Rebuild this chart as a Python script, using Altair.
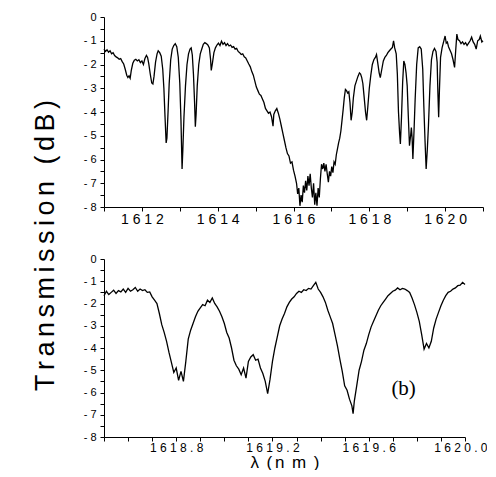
import altair as alt
import pandas as pd

# ---- top panel (a): transmission spectrum 1611-1621 nm ----
top_x = [1611.00, 1611.04, 1611.08, 1611.12, 1611.16, 1611.20, 1611.24, 1611.28, 1611.32, 1611.36,
         1611.40, 1611.44, 1611.48, 1611.52, 1611.56, 1611.60, 1611.63, 1611.66, 1611.69, 1611.72,
         1611.76, 1611.80, 1611.84, 1611.88, 1611.92, 1611.96, 1612.00, 1612.04, 1612.08, 1612.12,
         1612.15, 1612.18, 1612.22, 1612.26, 1612.29, 1612.32, 1612.36, 1612.40, 1612.43, 1612.47,
         1612.51, 1612.55, 1612.58, 1612.61, 1612.64, 1612.66, 1612.69, 1612.72, 1612.76, 1612.80,
         1612.84, 1612.88, 1612.92, 1612.96, 1613.00, 1613.03, 1613.06, 1613.08, 1613.11, 1613.15,
         1613.19, 1613.23, 1613.27, 1613.30, 1613.33, 1613.36, 1613.39, 1613.41, 1613.43, 1613.46,
         1613.50, 1613.54, 1613.58, 1613.62, 1613.66, 1613.70, 1613.74, 1613.78, 1613.81, 1613.83,
         1613.86, 1613.90, 1613.94, 1613.98, 1614.02, 1614.06, 1614.10, 1614.14, 1614.18, 1614.22,
         1614.26, 1614.30, 1614.34, 1614.38, 1614.42, 1614.46, 1614.50, 1614.54, 1614.58, 1614.62,
         1614.66, 1614.70, 1614.74, 1614.78, 1614.82, 1614.86, 1614.90, 1614.94, 1614.98, 1615.02,
         1615.06, 1615.10, 1615.14, 1615.18, 1615.22, 1615.26, 1615.30, 1615.34, 1615.38, 1615.42,
         1615.46, 1615.48, 1615.52, 1615.56, 1615.60, 1615.64, 1615.68, 1615.72, 1615.76, 1615.80,
         1615.84, 1615.88, 1615.92, 1615.96, 1616.00, 1616.04, 1616.08, 1616.11, 1616.14, 1616.17,
         1616.20, 1616.23, 1616.26, 1616.29, 1616.32, 1616.35, 1616.38, 1616.41, 1616.44, 1616.47,
         1616.50, 1616.53, 1616.56, 1616.59, 1616.62, 1616.65, 1616.68, 1616.71, 1616.74, 1616.77,
         1616.80, 1616.83, 1616.86, 1616.89, 1616.92, 1616.95, 1616.98, 1617.01, 1617.04, 1617.07,
         1617.10, 1617.13, 1617.16, 1617.19, 1617.22, 1617.25, 1617.28, 1617.31, 1617.34, 1617.37,
         1617.40, 1617.43, 1617.46, 1617.49, 1617.52, 1617.55, 1617.58, 1617.62, 1617.66, 1617.70,
         1617.74, 1617.77, 1617.80, 1617.83, 1617.86, 1617.90, 1617.93, 1617.96, 1618.00, 1618.04,
         1618.08, 1618.12, 1618.16, 1618.19, 1618.22, 1618.26, 1618.29, 1618.33, 1618.37, 1618.41,
         1618.45, 1618.49, 1618.53, 1618.57, 1618.61, 1618.64, 1618.67, 1618.71, 1618.74, 1618.77,
         1618.80, 1618.82, 1618.85, 1618.88, 1618.91, 1618.94, 1618.97, 1619.00, 1619.03, 1619.06,
         1619.09, 1619.11, 1619.13, 1619.15, 1619.18, 1619.21, 1619.25, 1619.29, 1619.33, 1619.37,
         1619.41, 1619.44, 1619.47, 1619.50, 1619.53, 1619.56, 1619.60, 1619.64, 1619.68, 1619.72,
         1619.76, 1619.79, 1619.81, 1619.83, 1619.85, 1619.88, 1619.92, 1619.96, 1620.00, 1620.03,
         1620.06, 1620.09, 1620.13, 1620.17, 1620.21, 1620.25, 1620.28, 1620.31, 1620.34, 1620.38,
         1620.42, 1620.46, 1620.50, 1620.54, 1620.58, 1620.62, 1620.66, 1620.70, 1620.74, 1620.78,
         1620.82, 1620.86, 1620.90, 1620.93, 1620.97, 1621.00]
top_y = [-1.35, -1.45, -1.38, -1.48, -1.42, -1.55, -1.50, -1.62, -1.68, -1.72,
         -1.78, -1.75, -1.88, -1.98, -2.20, -2.45, -2.55, -2.48, -2.58, -2.25,
         -1.95, -1.82, -1.78, -1.85, -1.80, -1.92, -1.85, -2.00, -1.75, -1.62,
         -1.70, -1.95, -2.40, -2.78, -2.82, -2.50, -1.90, -1.55, -1.42, -1.50,
         -1.65, -2.20, -3.00, -4.20, -5.30, -5.10, -4.00, -2.80, -1.80, -1.35,
         -1.20, -1.12, -1.25, -1.70, -2.80, -4.30, -6.40, -5.60, -4.20, -2.90,
         -2.00, -1.55, -1.35, -1.30, -1.60, -2.40, -3.60, -4.62, -4.10, -2.90,
         -2.00, -1.55, -1.35, -1.15, -1.08, -1.12, -1.18, -1.30, -1.75, -2.25,
         -1.95, -1.50, -1.30, -1.18, -1.10, -1.20, -1.02, -1.15, -1.08, -1.20,
         -1.12, -1.22, -1.18, -1.28, -1.25, -1.35, -1.32, -1.45, -1.50, -1.58,
         -1.55, -1.68, -1.72, -1.85, -1.98, -2.10, -2.30, -2.45, -2.70, -2.95,
         -3.10, -3.25, -3.30, -3.45, -3.60, -3.85, -3.95, -4.05, -4.00, -4.20,
         -4.60, -4.10, -3.95, -3.85, -4.05, -4.30, -4.60, -4.90, -5.20, -5.50,
         -5.75, -5.85, -6.15, -6.10, -6.45, -6.70, -7.00, -7.45, -7.20, -7.95,
         -7.50, -7.80, -7.10, -7.40, -6.90, -7.30, -6.70, -7.10, -6.60, -7.20,
         -7.60, -7.00, -7.90, -7.40, -7.95, -7.20, -7.60, -6.80, -6.20, -6.40,
         -6.15, -6.50, -6.20, -6.60, -6.95, -6.50, -6.70, -6.30, -6.55, -6.10,
         -6.20, -5.80, -5.55, -5.30, -5.10, -4.80, -4.35, -3.90, -3.40, -3.05,
         -3.10, -3.20, -3.15, -3.60, -4.35, -4.00, -3.40, -2.90, -2.70, -2.50,
         -2.35, -2.40, -2.55, -2.80, -3.30, -4.00, -4.35, -3.80, -3.00, -2.45,
         -2.00, -1.80, -1.70, -1.58, -1.90, -2.35, -2.55, -2.20, -1.85, -1.70,
         -1.62, -1.50, -1.42, -1.35, -1.28, -1.00, -1.30, -1.55, -2.40, -4.00,
         -4.90, -5.35, -4.20, -2.75, -1.85, -2.00, -2.35, -2.90, -4.20, -5.42,
         -5.00, -4.65, -5.10, -5.98, -4.80, -3.45, -2.00, -1.30, -1.25, -1.35,
         -2.20, -3.80, -5.20, -6.40, -5.60, -4.60, -2.90, -1.80, -1.45, -1.32,
         -1.45, -1.90, -3.20, -4.22, -3.10, -1.70, -1.30, -1.05, -0.80, -1.10,
         -1.05, -1.25, -1.40, -1.55, -1.80, -2.12, -1.40, -0.72, -0.95, -1.00,
         -1.12, -1.05, -1.15, -1.08, -1.20, -1.10, -1.00, -0.85, -1.05, -1.15,
         -1.35, -1.00, -0.95, -0.80, -1.05, -1.00]

# ---- bottom panel (b): zoom 1618.5-1620.0 nm ----
bot_x = [1618.50, 1618.51, 1618.52, 1618.53, 1618.54, 1618.55, 1618.56, 1618.57, 1618.58, 1618.59,
         1618.60, 1618.61, 1618.62, 1618.63, 1618.64, 1618.65, 1618.66, 1618.67, 1618.68, 1618.69,
         1618.70, 1618.71, 1618.72, 1618.73, 1618.74, 1618.75, 1618.76, 1618.77, 1618.78, 1618.79,
         1618.80, 1618.81, 1618.82, 1618.83, 1618.84, 1618.85, 1618.86, 1618.87, 1618.88, 1618.89,
         1618.90, 1618.91, 1618.92, 1618.93, 1618.94, 1618.95, 1618.96, 1618.97, 1618.98, 1618.99,
         1619.00, 1619.01, 1619.02, 1619.03, 1619.04, 1619.05, 1619.06, 1619.07, 1619.08, 1619.09,
         1619.10, 1619.11, 1619.12, 1619.13, 1619.14, 1619.15, 1619.16, 1619.17, 1619.18, 1619.19,
         1619.20, 1619.21, 1619.22, 1619.23, 1619.24, 1619.25, 1619.26, 1619.27, 1619.28, 1619.29,
         1619.30, 1619.31, 1619.32, 1619.33, 1619.34, 1619.35, 1619.36, 1619.37, 1619.38, 1619.39,
         1619.40, 1619.41, 1619.42, 1619.43, 1619.44, 1619.45, 1619.46, 1619.47, 1619.48, 1619.49,
         1619.50, 1619.51, 1619.52, 1619.53, 1619.535, 1619.54, 1619.55, 1619.56, 1619.57, 1619.58,
         1619.59, 1619.60, 1619.61, 1619.62, 1619.63, 1619.64, 1619.65, 1619.66, 1619.67, 1619.68,
         1619.69, 1619.70, 1619.71, 1619.72, 1619.73, 1619.74, 1619.75, 1619.76, 1619.77, 1619.78,
         1619.79, 1619.80, 1619.81, 1619.82, 1619.83, 1619.84, 1619.85, 1619.86, 1619.87, 1619.88,
         1619.89, 1619.90, 1619.91, 1619.92, 1619.93, 1619.94, 1619.95, 1619.96, 1619.97, 1619.98,
         1619.99, 1620.00]
bot_y = [-1.65, -1.45, -1.60, -1.50, -1.40, -1.55, -1.42, -1.48, -1.35, -1.50,
         -1.32, -1.45, -1.38, -1.28, -1.45, -1.35, -1.42, -1.38, -1.50, -1.48,
         -1.70, -1.85, -2.00, -2.45, -2.95, -3.30, -3.70, -4.20, -4.65, -5.10,
         -4.90, -5.45, -5.05, -5.50, -4.60, -3.60, -3.20, -2.90, -2.60, -2.35,
         -2.20, -2.05, -2.10, -1.85, -1.95, -1.75, -2.00, -2.15, -2.35, -2.60,
         -2.90, -3.30, -3.55, -4.00, -4.55, -4.80, -4.95, -5.20, -4.90, -5.35,
         -4.60, -4.40, -4.30, -4.55, -4.50, -4.90, -5.15, -5.50, -6.05, -5.40,
         -4.60, -4.00, -3.50, -3.00, -2.70, -2.45, -2.15, -1.95, -1.80, -1.70,
         -1.55, -1.45, -1.50, -1.38, -1.42, -1.32, -1.35, -1.20, -1.05, -1.35,
         -1.50, -1.70, -1.95, -2.30, -2.60, -2.90, -3.40, -3.90, -4.50, -5.05,
         -5.70, -5.90, -6.30, -6.60, -6.95, -6.40, -5.70, -5.00, -4.60, -4.10,
         -3.80, -3.40, -3.05, -2.80, -2.55, -2.30, -2.10, -1.95, -1.80, -1.65,
         -1.55, -1.45, -1.40, -1.30, -1.38, -1.32, -1.35, -1.42, -1.50, -1.75,
         -2.05, -2.40, -2.80, -3.40, -4.05, -3.80, -4.00, -3.70, -3.10, -2.70,
         -2.40, -2.10, -1.85, -1.65, -1.50, -1.45, -1.35, -1.30, -1.20, -1.18,
         -1.05, -1.15]

# tick positions
top_ticks = [1611, 1612, 1613, 1614, 1615, 1616, 1617, 1618, 1619, 1620, 1621]
bot_ticks = [1618.5, 1618.6, 1618.7, 1618.8, 1618.9, 1619.0, 1619.1, 1619.2,
             1619.3, 1619.4, 1619.5, 1619.6, 1619.7, 1619.8, 1619.9, 1620.0]
bot_major = ["1618.8", "1619.2", "1619.6", "1620.0"]
y_ticks = [-8, -7.5, -7, -6.5, -6, -5.5, -5, -4.5, -4, -3.5, -3, -2.5, -2, -1.5, -1, -0.5, 0]

# annotation
ann_text = ["(b)"]
ann_x = [1619.745]
ann_y = [-5.85]

HS2 = "\u200a\u200a"
y_title = HS2.join("Transmission (dB)")
x_title = "λ" + HS2 + " (" + HS2 + "n" + HS2 + " m" + HS2 + " )"

top_df = pd.DataFrame({"wl": top_x, "t": top_y})
bot_df = pd.DataFrame({"wl": bot_x, "t": bot_y})
ann_df = pd.DataFrame({"wl": ann_x, "t": ann_y, "txt": ann_text})

y_label_expr = ("datum.value == 0 ? '0' : (datum.value % 1 == 0 ? '- ' + format(-datum.value, 'd') : '')")

y_scale = alt.Scale(domain=[-8, 0], zero=False, nice=False)
bot_x_scale = alt.Scale(domain=[1618.5, 1620.0], zero=False, nice=False)

top = alt.Chart(top_df).mark_line(color="black", strokeWidth=1.3).encode(
    x=alt.X("wl:Q", scale=alt.Scale(domain=[1611, 1621], zero=False, nice=False),
            axis=alt.Axis(values=top_ticks, format="d", title=None,
                          labelExpr="datum.value % 2 == 0 ? join(split(datum.label, ''), ' ') : ''",
                          labelFontSize=14, labelOverlap=False, labelFlush=False,
                          labelPadding=1)),
    y=alt.Y("t:Q", scale=y_scale,
            axis=alt.Axis(values=y_ticks, labelExpr=y_label_expr, labelFontSize=11,
                          labelOverlap=False, labelPadding=4,
                          title=y_title, titleFontSize=27, titleFontWeight="normal",
                          titleFont="Liberation Sans", titleAngle=270,
                          titleX=-45, titleY=228, titleAlign="center",
                          titleBaseline="bottom")),
).properties(width=379, height=190)

bot_x_axis = alt.Axis(values=bot_ticks, format=".1f", title=x_title,
                      labelExpr="indexof(" + str(bot_major) + ", datum.label) >= 0 ? join(split(datum.label, ''), ' ') : ''",
                      labelFontSize=12, labelOverlap=False, labelFlush=True,
                      labelFlushOffset=22, labelPadding=1,
                      titleFontSize=17, titleFontWeight="normal",
                      titleFont="Liberation Sans", titlePadding=1)
bot_y_axis = alt.Axis(values=y_ticks, labelExpr=y_label_expr, labelFontSize=11,
                      labelOverlap=False, labelPadding=4, title=None)

bot_line = alt.Chart(bot_df).mark_line(color="black", strokeWidth=1.3).encode(
    x=alt.X("wl:Q", scale=bot_x_scale, axis=bot_x_axis),
    y=alt.Y("t:Q", scale=y_scale, axis=bot_y_axis),
)
bot_text = alt.Chart(ann_df).mark_text(font="Liberation Serif", fontSize=21,
                                       color="black", align="center",
                                       baseline="middle").encode(
    x=alt.X("wl:Q", scale=bot_x_scale, axis=bot_x_axis),
    y=alt.Y("t:Q", scale=y_scale, axis=bot_y_axis),
    text="txt:N")
bottom = alt.layer(bot_line, bot_text).properties(width=361, height=178)

chart = alt.vconcat(top, bottom, spacing=52, bounds="flush").properties(
    padding={"left": 22, "top": 3, "right": 0, "bottom": 0}
).configure_view(stroke=None).configure_axis(
    grid=False, domainColor="black", tickColor="black", labelColor="black",
    titleColor="black", labelFont="Liberation Sans", tickSize=4,
    domainWidth=1, tickWidth=1
)

chart.save("out.html", embed_options={"renderer": "svg", "actions": False})
